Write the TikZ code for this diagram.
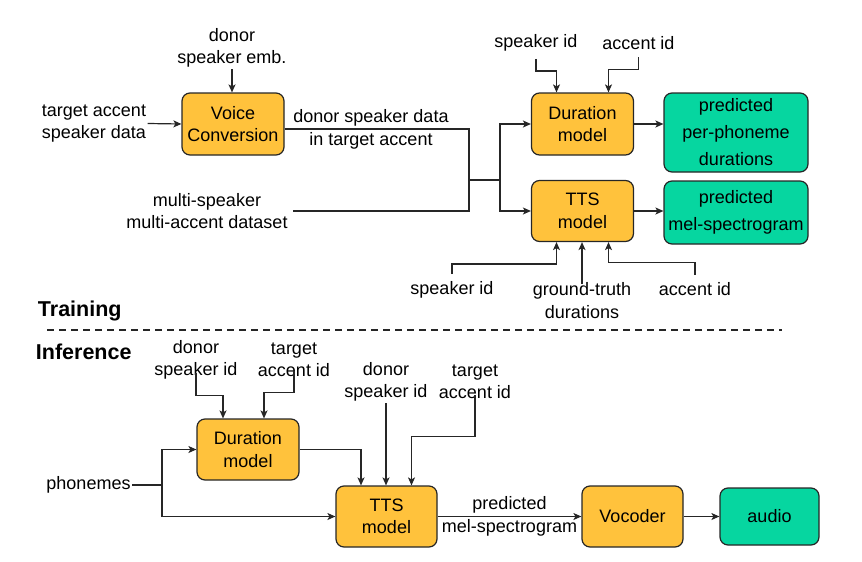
\documentclass[tikz,border=0pt]{standalone}
\usepackage{fontspec}
\setmainfont{Liberation Sans}
\usetikzlibrary{arrows.meta}
\definecolor{boxorange}{HTML}{FFC23C}
\definecolor{boxgreen}{HTML}{06D6A0}
\definecolor{edgegray}{HTML}{262626}

\begin{document}
\begin{tikzpicture}[x=1pt, y=-1pt, line width=1.2pt,
  every node/.style={font=\fontsize{18}{22.5}\selectfont, align=center},
  model/.style={draw=edgegray, fill=boxorange, rounded corners=8pt, minimum width=102pt, minimum height=62pt, inner sep=0pt},
  output/.style={draw=edgegray, fill=boxgreen, rounded corners=8pt, minimum width=144pt, inner sep=0pt, font=\fontsize{18}{27}\selectfont},
  txt/.style={inner sep=1pt},
  arr/.style={draw=edgegray, -{Stealth[length=8pt, width=7pt, inset=2pt]}}]
\useasboundingbox (0,0) rectangle (862,562);

% training
\node[model] (vc) at (233,124) {Voice\\Conversion};
\node[model] (durT) at (582.5,124) {Duration\\model};
\node[model, minimum height=61pt] (ttsT) at (582.5,211) {TTS\\model};
\node[output, minimum height=79pt] (phon) at (736,132.5) {predicted\\per-phoneme\\durations};
\node[output, minimum height=63pt] (mel) at (736,212.5) {predicted\\mel-spectrogram};

\node[txt] (dse) at (232,48) {donor\\speaker emb.};
\node[txt] (tasd) at (94,123.5) {target accent\\speaker data};
\node[txt] (dsd) at (371,129.5) {donor speaker data\\in target accent};
\node[txt] (msd) at (207,211) {multi-speaker\\multi-accent dataset};
\node[txt] (spT) at (536,43) {speaker id};
\node[txt] (acT) at (638.5,43) {accent id};
\node[txt] (spB) at (452,290) {speaker id};
\node[txt] (gtd) at (582,300.5) {ground-truth\\durations};
\node[txt] (acB) at (695,289) {accent id};

\coordinate (j1) at (469,180);
\coordinate (j2) at (500,180);

\draw[arr] (dse.south) -- (dse.south |- vc.north);
\draw[arr] (tasd.east) -- (vc.west);
\draw[edgegray] ([yshift=-5pt]vc.east) -| (j1);
\draw[edgegray] ([xshift=4pt]msd.east) -| (j1) -- (j2);
\draw[arr] (j2) |- (durT.west);
\draw[arr] (j2) |- (ttsT.west);
\draw[arr] (durT.east) -- (durT.east -| phon.west);
\draw[arr] (ttsT.east) -- (ttsT.east -| mel.west);
\draw[arr] ([yshift=-6pt]spT.south) -- ++(0,12) -| ([xshift=-26pt]durT.north);
\draw[arr] ([yshift=-6pt]acT.south) -- ++(0,12) -| ([xshift=26pt]durT.north);
\draw[arr] ([yshift=6pt]spB.north) -- ++(0,-10) -| ([xshift=-26pt]ttsT.south);
\draw[arr] ([yshift=-3pt]gtd.north) -- (gtd.north |- ttsT.south);
\draw[arr] ([yshift=6pt]acB.north) -- ++(0,-12) -| ([xshift=26pt]ttsT.south);

\node[anchor=west, font=\fontsize{21.5}{24}\selectfont\bfseries] (train) at (34,311) {Training};
\draw[edgegray, line width=1.3pt, dash pattern=on 7pt off 5pt] (47,330) -- (782,330);
\node[anchor=west, font=\fontsize{21.5}{24}\selectfont\bfseries] (infer) at (32,351.5) {Inference};

% inference
\node[model, minimum height=61pt] (durI) at (248,449.5) {Duration\\model};
\node[model, minimum width=101pt, minimum height=61pt] (ttsI) at (386.5,516.5) {TTS\\model};
\node[model, minimum width=101pt, minimum height=61pt] (voc) at (632.5,516.5) {Vocoder};
\node[output, minimum width=99pt, minimum height=57pt] (audio) at (769.5,516.5) {audio};

\node[txt] (dsi1) at (196,360) {donor\\speaker id};
\node[txt] (tai1) at (294,360) {target\\accent id};
\node[txt] (dsi2) at (386,382) {donor\\speaker id};
\node[txt] (tai2) at (475,382) {target\\accent id};
\node[txt] (ph) at (88.5,485) {phonemes};

\coordinate (j3) at (162,485);

\draw[arr] ([yshift=8pt]dsi1.south) -- ++(0,22) -| ([xshift=-25pt]durI.north);
\draw[arr] ([yshift=8pt]tai1.south) -- ++(0,22) -| ([xshift=16pt]durI.north);
\draw[edgegray] (ph.east) -- (j3);
\draw[arr] (j3) |- (durI.west);
\draw[arr] (j3) |- (ttsI.west);
\draw[arr] (durI.east) -| ([xshift=-25.5pt]ttsI.north);
\draw[arr] (dsi2.south) -- (dsi2.south |- ttsI.north);
\draw[arr] ([yshift=6pt]tai2.south) -- ++(0,42) -| ([xshift=25pt]ttsI.north);
\draw[arr] (ttsI.east) -- node[txt] (pms) {predicted\\mel-spectrogram} (voc.west);
\draw[arr] (voc.east) -- (audio.west);
\end{tikzpicture}
\end{document}
